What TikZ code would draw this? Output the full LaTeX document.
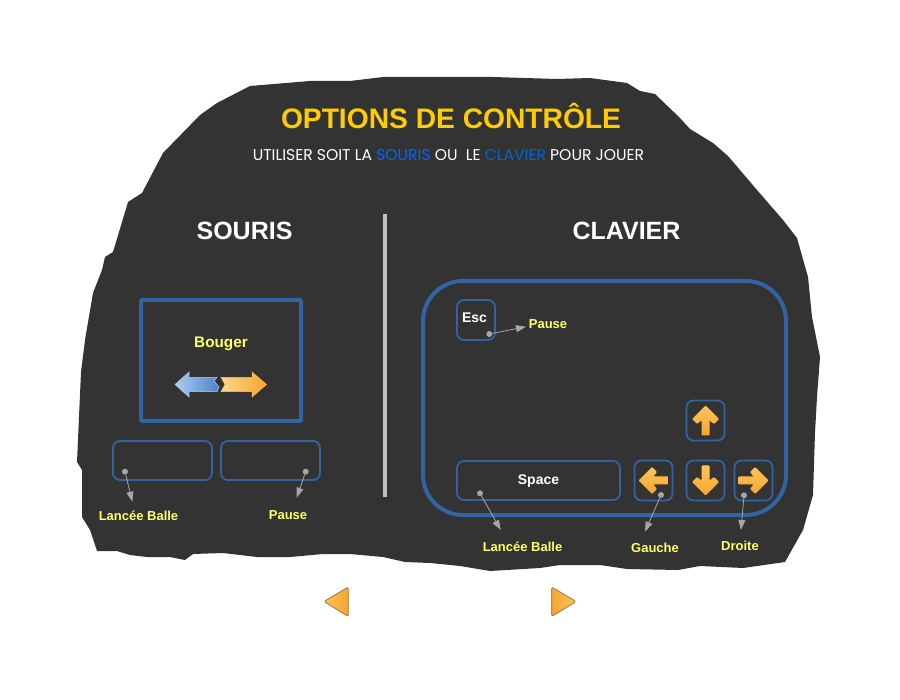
\documentclass[tikz,border=0pt]{standalone}
\usepackage{fontspec}
\setmainfont{Liberation Sans}
\newfontfamily\decofont{Poppins}
\usepackage{tikz}
\usetikzlibrary{arrows.meta}
\definecolor{slate}{RGB}{51, 51, 51}
\definecolor{keyblue}{RGB}{50, 99, 163}
\definecolor{titlegold}{RGB}{255, 204, 0}
\definecolor{labelyellow}{RGB}{255, 255, 102}
\definecolor{pointergray}{RGB}{166, 166, 166}
\definecolor{dividergray}{RGB}{191, 191, 191}
\definecolor{amberlight}{RGB}{255, 195, 90}
\definecolor{amberdark}{RGB}{243, 166, 48}
\definecolor{skylight}{RGB}{175, 205, 240}
\definecolor{skydark}{RGB}{75, 130, 200}
\tikzset{
  keybox/.style={draw=keyblue, line width=1.8pt, rounded corners=7pt, inner sep=0pt, text=white, font=\bfseries\fontsize{14}{16}\selectfont},
  actionlabel/.style={text=labelyellow, inner sep=0pt, font=\bfseries\fontsize{13}{15}\selectfont},
  headlabel/.style={text=white, inner sep=0pt, font=\bfseries\fontsize{25}{28}\selectfont},
  pointerdot/.style={circle, fill=pointergray, inner sep=0pt, minimum size=6pt},
  pointerline/.style={-{Stealth[length=10pt,width=7pt,inset=0pt]}, pointergray, line width=0.8pt},
  navbutton/.style={draw={rgb,255:red,165;green,118;blue,58}, line width=0.8pt, rounded corners=1.5pt},
  keyarrow/.pic={
    \path[rounded corners=0.8pt, top color=amberlight, bottom color=amberdark]
      (15,0) -- (1.5,13.5) -- (-3.5,8.5) -- (0,4) -- (-15,4) -- (-15,-4) -- (0,-4) -- (-3.5,-8.5) -- (1.5,-13.5) -- cycle;
  }
}
\begin{document}
\begin{tikzpicture}[x=1pt, y=-1pt]
        \useasboundingbox (0,0) rectangle (900,700);

        % Stone panel
        \fill[slate] (250,86) -- (310,81) -- (350,81) -- (383,77) -- (493,77) -- (557,79) -- (590,78) -- (627,83) -- (640,91) -- (655,94)
          -- (680,118) -- (690,129) -- (713,143) -- (728,156) -- (757,190) -- (783,220) -- (797,238) -- (808,277) -- (812,317) -- (820,357)
          -- (817,397) -- (815,433) -- (813,495) -- (803,530) -- (785,562) -- (743,568) -- (700,566) -- (678,570) -- (627,569) -- (600,565)
          -- (560,565) -- (540,568) -- (490,571) -- (460,566) -- (430,563) -- (405,562) -- (383,557) -- (350,554) -- (323,554) -- (290,557)
          -- (257,557) -- (223,553) -- (193,554) -- (185,560) -- (170,557) -- (147,557) -- (130,555) -- (117,551) -- (97,551) -- (90,530)
          -- (82,517) -- (82,470) -- (77,462) -- (81,372) -- (85,340) -- (93,293) -- (102,270) -- (105,257) -- (113,252) -- (128,202)
          -- (142,193) -- (163,153) -- (200,115) -- (217,103) -- cycle;

        % Titles
        \node[text=titlegold, inner sep=0pt, font=\bfseries\fontsize{28.2}{31}\selectfont] (Title) at (451,116.5) {OPTIONS DE CONTRÔLE};
        \node[text=white, inner sep=0pt, font=\decofont\fontsize{15.6}{18}\selectfont] (Subtitle) at (448.5,155.5) {UTILISER SOIT LA \textcolor[RGB]{0,102,255}{SOURIS} OU \ LE \textcolor[RGB]{0,102,204}{CLAVIER} POUR JOUER};
        \node[headlabel] (Souris) at (244.5,231) {SOURIS};
        \node[headlabel] (Clavier) at (626.5,231) {CLAVIER};
        \fill[dividergray] (382.5,214) rectangle (386.5,497);

        % Mouse
        \node[draw=keyblue, line width=4pt, rounded corners=1pt, minimum width=160pt, minimum height=121pt, inner sep=0pt] (Mouse) at (221,360.5) {};
        \node[text=labelyellow, inner sep=0pt, font=\bfseries\fontsize{15.3}{17}\selectfont] (Bouger) at (221,343.5) {Bouger};
        \path[draw=skylight, line width=0.5pt, left color=skylight, right color=skydark]
          (175,384.5) -- (189,372) -- (189,377.3) -- (217,377.3) -- (214,381) -- (219,387) -- (217,391.7) -- (189,391.7) -- (189,397) -- cycle;
        \path[draw=amberlight, line width=0.5pt, left color=amberlight!70!white, right color=amberdark]
          (266.5,384.5) -- (252,372) -- (252,377.3) -- (221,377.3) -- (225,384.5) -- (221,391.7) -- (252,391.7) -- (252,397) -- cycle;
        \node[keybox, minimum width=99pt, minimum height=39pt] (MouseLeft) at (162.5,460.5) {};
        \node[keybox, minimum width=99pt, minimum height=39pt] (MouseRight) at (270.5,460.5) {};

        % Keyboard
        \node[draw=keyblue, line width=4pt, rounded corners=40pt, minimum width=363pt, minimum height=234pt, inner sep=0pt] (Keyboard) at (604.5,398) {};
        \node[keybox, minimum width=38pt, minimum height=40pt] (Esc) at (476,320) {};
        \node[text=white, inner sep=0pt, font=\bfseries\fontsize{14}{16}\selectfont] (EscText) at (474.5,318) {Esc};
        \node[keybox, minimum width=163pt, minimum height=39pt] (Space) at (538.5,480.5) {};
        \node[text=white, inner sep=0pt, font=\bfseries\fontsize{14}{16}\selectfont] (SpaceText) at (538.5,481) {Space};
        \node[keybox, minimum width=38pt, minimum height=40pt] (KeyUp) at (705.5,420.5) {};
        \node[keybox, minimum width=38pt, minimum height=40pt] (KeyLeft) at (653.5,480.5) {};
        \node[keybox, minimum width=38pt, minimum height=40pt] (KeyDown) at (705.5,480.5) {};
        \node[keybox, minimum width=38pt, minimum height=40pt] (KeyRight) at (753.5,480.5) {};
        \pic[rotate=90] at (KeyUp) {keyarrow};
        \pic[rotate=180] at (KeyLeft) {keyarrow};
        \pic[rotate=-90] at (KeyDown) {keyarrow};
        \pic at (KeyRight) {keyarrow};

        % Action labels
        \node[actionlabel] (LanceeMouse) at (138.5,516) {Lancée Balle};
        \node[actionlabel] (PauseMouse) at (288,515) {Pause};
        \node[actionlabel] (PauseKey) at (548,324.5) {Pause};
        \node[actionlabel] (LanceeKey) at (522.5,547) {Lancée Balle};
        \node[actionlabel] (Gauche) at (655,547.5) {Gauche};
        \node[actionlabel] (Droite) at (740,546) {Droite};

        % Pointers
        \node[pointerdot] (DotLancee) at (125,471.7) {};
        \node[pointerdot] (DotPause) at (305.7,471.7) {};
        \node[pointerdot] (DotEsc) at (489.3,334) {};
        \node[pointerdot] (DotSpace) at (480,493.3) {};
        \node[pointerdot] (DotGauche) at (661,495) {};
        \node[pointerdot] (DotDroite) at (744,495.3) {};
        \coordinate (TipLancee) at (132.3,501.7);
        \coordinate (TipPause) at (296.7,497.7);
        \coordinate (TipEsc) at (526,326.7);
        \coordinate (TipSpace) at (500.7,530);
        \coordinate (TipGauche) at (645,531.7);
        \coordinate (TipDroite) at (741,530);
        \draw[pointerline] (DotLancee) -- (TipLancee);
        \draw[pointerline] (DotPause) -- (TipPause);
        \draw[pointerline] (DotEsc) -- (TipEsc);
        \draw[pointerline] (DotSpace) -- (TipSpace);
        \draw[pointerline] (DotGauche) -- (TipGauche);
        \draw[pointerline] (DotDroite) -- (TipDroite);

        % Navigation
        \path[navbutton, left color=amberlight, right color=amberdark] (324,601.5) -- (348.3,587) -- (348.3,616.5) -- cycle;
        \path[navbutton, left color=amberdark, right color=amberlight] (576,601.5) -- (551.7,587) -- (551.7,616.5) -- cycle;
      \end{tikzpicture}
\end{document}
